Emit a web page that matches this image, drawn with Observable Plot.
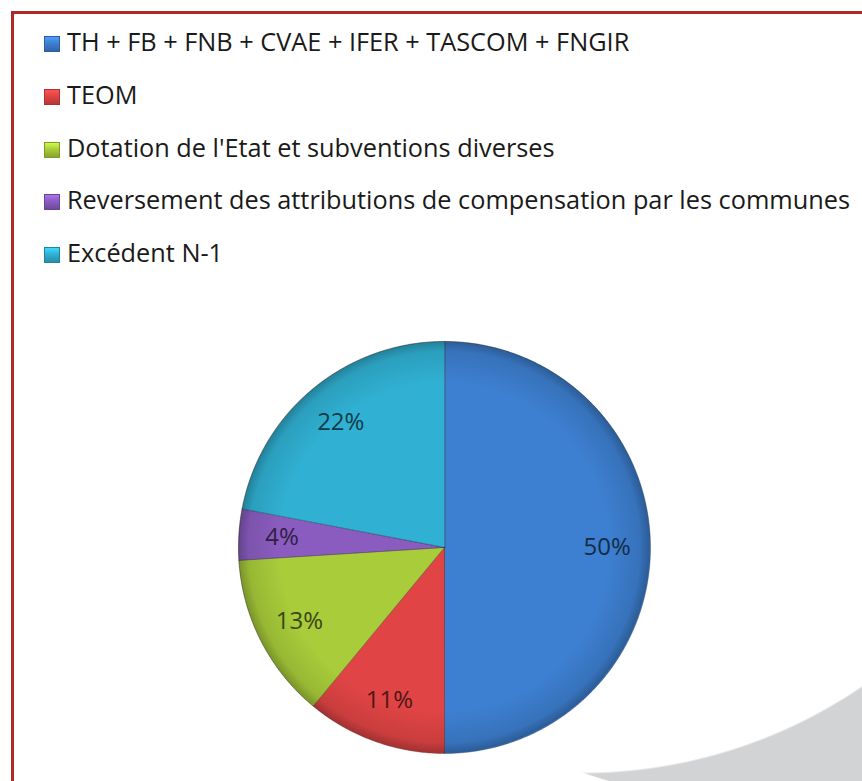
<!DOCTYPE html>
<html><head><meta charset="utf-8">
<script src="https://cdn.jsdelivr.net/npm/d3@7"></script>
<script src="https://cdn.jsdelivr.net/npm/@observablehq/plot@0.6"></script>
<style>
html,body{margin:0;padding:0;background:#fff;}
body{width:862px;height:781px;overflow:hidden;position:relative;font-family:"Open Sans",Lato,sans-serif;}
#swoosh{position:absolute;left:0;top:0;width:862px;height:781px;
  background:radial-gradient(circle 497px at 582px 276px, rgba(210,211,212,0) 496px, #d2d3d4 498px);
  clip-path:circle(552px at 760px 250px);}
#frame{position:absolute;left:11px;top:11px;width:1000px;height:1000px;border-left:3px solid #b0282a;border-top:3px solid #b0282a;}
#legend{position:absolute;left:44px;top:15px;}
.row{white-space:nowrap;font-size:25.3px;line-height:52.75px;color:#1a1a1a;}
.sw{display:inline-block;width:16px;height:16px;margin-right:7px;vertical-align:-1px;box-sizing:border-box;}
#chart{position:absolute;left:0;top:300px;}
</style></head>
<body>
<div id="swoosh"></div>
<div id="frame"></div>
<div id="legend"></div>
<div id="chart"></div>
<script>
const categories = [
  "TH + FB + FNB + CVAE + IFER + TASCOM + FNGIR",
  "TEOM",
  "Dotation de l'Etat et subventions diverses",
  "Reversement des attributions de compensation par les communes",
  "Excédent N-1"
];
const shares = [50, 11, 13, 4, 22];
const labels = ["50%", "11%", "13%", "4%", "22%"];
const colors = ["#3d7fd0", "#e04444", "#a8cc3a", "#8a5cc0", "#30b0d2"];

// legend
const legend = document.getElementById("legend");
categories.forEach((c, i) => {
  const row = document.createElement("div");
  row.className = "row";
  const sw = document.createElement("span");
  sw.className = "sw";
  const col = d3.color(colors[i]);
  sw.style.background = `linear-gradient(180deg, ${col.brighter(0.6)} 0%, ${col} 45%, ${col.darker(0.6)} 100%)`;
  sw.style.border = `1px solid ${col.darker(0.8)}`;
  row.appendChild(sw);
  row.appendChild(document.createTextNode(c));
  legend.appendChild(row);
});

// pie geometry from the shares (angles clockwise from 12 o'clock)
const total = d3.sum(shares);
const pts = [];
const lbl = [];
let acc = 0;
shares.forEach((v, i) => {
  const a0 = acc / total * 2 * Math.PI;
  acc += v;
  const a1 = acc / total * 2 * Math.PI;
  const n = Math.max(2, Math.ceil((a1 - a0) / (Math.PI / 360)));
  pts.push({cat: categories[i], x: 0, y: 0});
  for (let k = 0; k <= n; k++) {
    const a = a0 + (a1 - a0) * k / n;
    pts.push({cat: categories[i], x: Math.sin(a), y: Math.cos(a)});
  }
  const am = (a0 + a1) / 2;
  const rr = 0.79;
  lbl.push({cat: categories[i], text: labels[i], x: rr * Math.sin(am), y: rr * Math.cos(am),
            color: d3.color(colors[i]).darker(3).formatHex()});
});

// soft rim shading over the pie, positioned from the scales
function rimShade(index, scales) {
  const ns = "http://www.w3.org/2000/svg";
  const g = document.createElementNS(ns, "g");
  const defs = document.createElementNS(ns, "defs");
  const rg = document.createElementNS(ns, "radialGradient");
  rg.setAttribute("id", "rim");
  [[0, 0], [0.8, 0], [0.95, 0.1], [1, 0.28]].forEach(([o, a]) => {
    const s = document.createElementNS(ns, "stop");
    s.setAttribute("offset", o);
    s.setAttribute("stop-color", "#000");
    s.setAttribute("stop-opacity", a);
    rg.appendChild(s);
  });
  defs.appendChild(rg);
  g.appendChild(defs);
  const c = document.createElementNS(ns, "circle");
  c.setAttribute("cx", scales.x(0));
  c.setAttribute("cy", scales.y(0));
  c.setAttribute("r", scales.x(1) - scales.x(0));
  c.setAttribute("fill", "url(#rim)");
  c.setAttribute("pointer-events", "none");
  g.appendChild(c);
  return g;
}

const R = 206, cx = 444, cy = 247, W = 862, H = 481;
const plot = Plot.plot({
  width: W, height: H, margin: 0,
  style: {background: "transparent", overflow: "visible"},
  x: {domain: [-cx / R, (W - cx) / R], axis: null},
  y: {domain: [-(H - cy) / R, cy / R], axis: null},
  color: {domain: categories, range: colors},
  marks: [
    Plot.line(pts, {x: "x", y: "y", z: "cat", fill: "cat", stroke: "#000", strokeOpacity: 0.3, strokeWidth: 1, curve: "linear-closed"}),
    rimShade,
    Plot.text(lbl, {x: "x", y: "y", text: "text", fill: "color", fontSize: 24, fontFamily: "Open Sans, sans-serif"})
  ]
});
document.getElementById("chart").appendChild(plot);
</script>
</body></html>
